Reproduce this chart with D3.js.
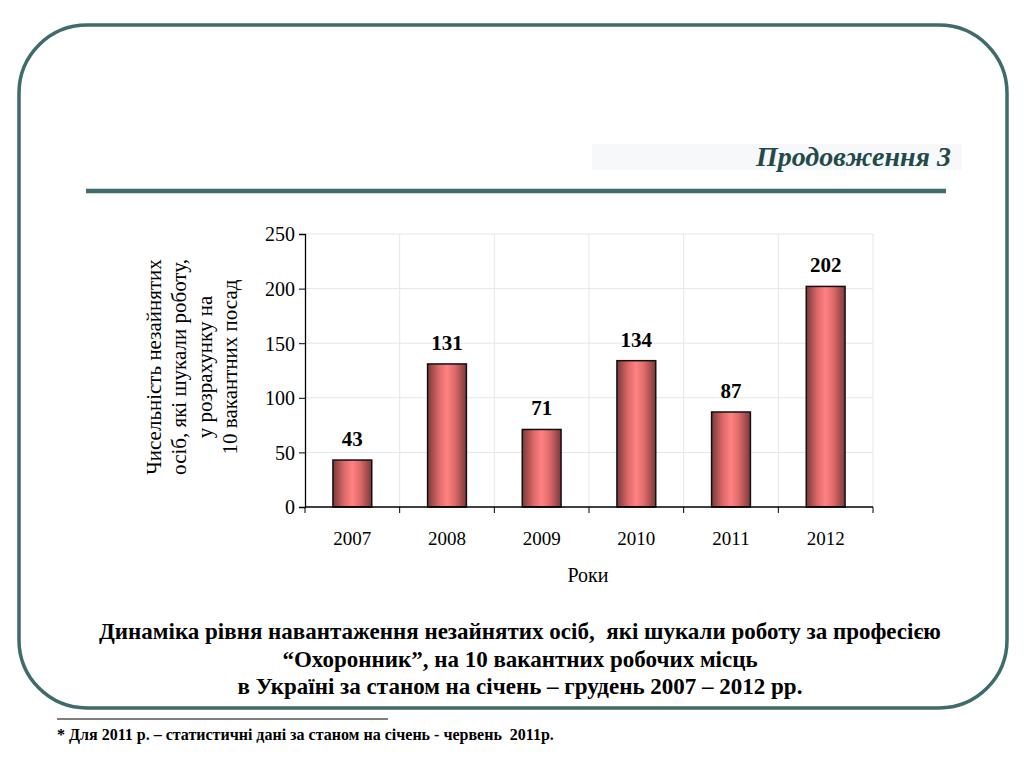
<!DOCTYPE html>
<html><head><meta charset="utf-8">
<script src="https://cdn.jsdelivr.net/npm/d3@7"></script>
<style>body{margin:0;background:#fff}svg{display:block}text{font-family:'Liberation Serif',serif;white-space:pre}</style>
</head><body>
<svg id="c" width="1024" height="768"></svg>
<script>
const years = ["2007","2008","2009","2010","2011","2012"];
const values = [43,131,71,134,87,202];
const yTicks = [0,50,100,150,200,250];
const yTitle = ["Чисельність незайнятих","осіб, які шукали роботу,","у розрахунку на","10 вакантних посад"];
const caption = ["Динаміка рівня навантаження незайнятих осіб,  які шукали роботу за професією","“Охоронник”, на 10 вакантних робочих місць","в Україні за станом на січень – грудень 2007 – 2012 рр."];
const footnote = "* Для 2011 р. – статистичні дані за станом на січень - червень  2011р.";
const heading = "Продовження 3";
const xTitle = "Роки";

const svg = d3.select("#c");
const serif = "'Liberation Serif', serif";
const teal = "#3f6b6b";

// frame
svg.append("rect").attr("x",19).attr("y",25).attr("width",988).attr("height",683)
  .attr("rx",68).attr("ry",68).attr("fill","none").attr("stroke",teal).attr("stroke-width",3.5);
// heading bg
svg.append("rect").attr("x",592).attr("y",144).attr("width",370).attr("height",26).attr("fill","#f6f8f9");
svg.append("text").attr("x",951).attr("y",166).attr("text-anchor","end")
  .style("font-family",serif).attr("font-size",28).attr("font-weight","bold").attr("font-style","italic")
  .attr("fill","#234a4a").text(heading);
svg.append("line").attr("x1",86).attr("x2",946).attr("y1",191).attr("y2",191)
  .attr("stroke",teal).attr("stroke-width",4.5);

// chart
const x0=305,x1=873,y0=507,y1=234;
const x = d3.scaleBand().domain(years).range([x0,x1]);
const y = d3.scaleLinear().domain([0,250]).range([y0,y1]);

const defs = svg.append("defs");
const g = defs.append("linearGradient").attr("id","bg").attr("x1","0").attr("x2","1").attr("y1","0").attr("y2","0");
g.append("stop").attr("offset","0").attr("stop-color","#7a3a3a");
g.append("stop").attr("offset","0.3").attr("stop-color","#e06a6a");
g.append("stop").attr("offset","0.5").attr("stop-color","#ff8282");
g.append("stop").attr("offset","0.7").attr("stop-color","#e06a6a");
g.append("stop").attr("offset","1").attr("stop-color","#7a3a3a");

// gridlines
svg.append("g").selectAll("line").data(yTicks.slice(1)).join("line")
  .attr("x1",x0).attr("x2",x1).attr("y1",d=>y(d)).attr("y2",d=>y(d))
  .attr("stroke","#e6e6e6").attr("stroke-width",1);
svg.append("g").selectAll("line").data(d3.range(1,7)).join("line")
  .attr("x1",i=>x0+x.step()*i).attr("x2",i=>x0+x.step()*i)
  .attr("y1",y1).attr("y2",y0).attr("stroke","#e6e6e6").attr("stroke-width",1);

// bars
const bw = x.bandwidth()*0.41;
svg.append("g").selectAll("rect").data(values).join("rect")
  .attr("x",(d,i)=>x(years[i])+x.bandwidth()/2-bw/2).attr("width",bw)
  .attr("y",d=>y(d)).attr("height",d=>y0-y(d))
  .attr("fill","url(#bg)").attr("stroke","#111").attr("stroke-width",1.5);
svg.append("g").selectAll("text").data(values).join("text")
  .attr("x",(d,i)=>x(years[i])+x.bandwidth()/2).attr("y",d=>y(d)-14)
  .attr("text-anchor","middle").style("font-family",serif).attr("font-size",21).attr("font-weight","bold")
  .text(d=>d);

// axes
const ya = svg.append("g").attr("transform",`translate(${x0},0)`)
  .call(d3.axisLeft(y).tickValues(yTicks).tickSize(6).tickPadding(4));
const xa = svg.append("g").attr("transform",`translate(0,${y0})`)
  .call(d3.axisBottom(x).tickSize(0).tickPadding(20));
xa.append("g").selectAll("line").data(d3.range(7)).join("line")
  .attr("x1",i=>x0+x.step()*i).attr("x2",i=>x0+x.step()*i).attr("y1",0).attr("y2",6).attr("stroke","#000");
[ya,xa].forEach(a=>{
  a.attr("font-family",null).style("font-family",serif);
  a.selectAll("path").attr("stroke","#000").attr("stroke-width",1.3);
  a.selectAll("line").attr("stroke","#000");
  a.selectAll("text").style("font-family",serif).attr("font-size",19).attr("fill","#000");
});
ya.selectAll("text").attr("font-size",20).attr("dy","0.34em");
xa.selectAll(".tick text").attr("dy",0).attr("y",38);
xa.select("path").attr("d",`M${x0},0H${x1}`);

svg.append("text").attr("x",588).attr("y",582).attr("text-anchor","middle")
  .style("font-family",serif).attr("font-size",20).text(xTitle);

const lx=[161,186,212,237];
yTitle.forEach((t,i)=>{
  svg.append("text").attr("transform",`translate(${lx[i]},367) rotate(-90)`)
    .attr("text-anchor","middle").style("font-family",serif).attr("font-size",21).text(t);
});

caption.forEach((t,i)=>{
  svg.append("text").attr("x",520).attr("y",639+i*27.5).attr("text-anchor","middle")
    .style("font-family",serif).attr("font-size",23).attr("font-weight","bold").text(t);
});

svg.append("line").attr("x1",57).attr("x2",388).attr("y1",719).attr("y2",719).attr("stroke","#000").attr("stroke-width",1);
svg.append("text").attr("x",57).attr("y",740).style("font-family",serif).attr("font-size",16)
  .attr("font-weight","bold").text(footnote);
</script>
</body></html>
